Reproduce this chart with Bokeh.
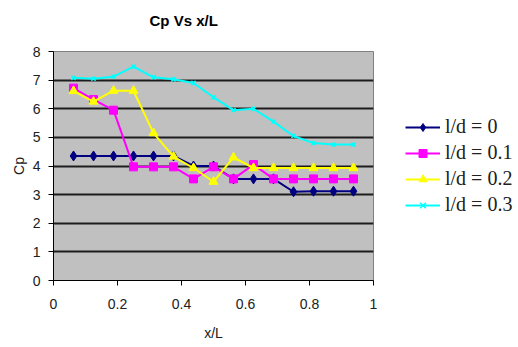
from bokeh.plotting import figure
from bokeh.models import FixedTicker, Legend, LegendItem, Title
from bokeh.embed import file_html
from bokeh.resources import INLINE

x_over_L = [0.0625, 0.125, 0.1875, 0.25, 0.3125, 0.375, 0.4375, 0.5,
            0.5625, 0.625, 0.6875, 0.75, 0.8125, 0.875, 0.9375]
cp_ld_0 = [4.35, 4.35, 4.35, 4.35, 4.35, 4.35, 4.0, 4.0, 3.55, 3.55, 3.55, 3.1, 3.12, 3.12, 3.12]
cp_ld_01 = [6.72, 6.32, 5.95, 3.97, 3.97, 3.97, 3.55, 3.97, 3.55, 4.05, 3.55, 3.55, 3.55, 3.55, 3.55]
cp_ld_02 = [6.62, 6.25, 6.63, 6.63, 5.15, 4.33, 3.93, 3.45, 4.3, 3.93, 3.93, 3.93, 3.93, 3.93, 3.93]
cp_ld_03 = [7.08, 7.05, 7.12, 7.47, 7.1, 7.03, 6.9, 6.4, 5.95, 6.0, 5.55, 5.05, 4.8, 4.75, 4.75]
series_labels = ["l/d = 0", "l/d = 0.1", "l/d = 0.2", "l/d = 0.3"]
x_ticks = [0, 0.2, 0.4, 0.6, 0.8, 1]
y_ticks = [0, 1, 2, 3, 4, 5, 6, 7, 8]

p = figure(width=518, height=347, output_backend="svg", toolbar_location=None,
           x_range=(0, 1), y_range=(0, 8),
           frame_width=320, frame_height=229,
           min_border_left=53, min_border_right=145, min_border_top=51, min_border_bottom=67)

p.background_fill_color = "#C0C0C0"
p.border_fill_color = "white"
p.outline_line_color = "#808080"
p.outline_line_width = 1

p.title = Title(text="Cp Vs x/L\n ", text_font="Liberation Sans", text_font_size="15px",
                text_font_style="bold", align="left", offset=96, text_color="black",
                standoff=8, text_line_height=1.1)

p.xgrid.grid_line_color = None
p.ygrid.grid_line_color = "black"
p.ygrid.grid_line_width = 2
p.ygrid.grid_line_alpha = 0.85

for ax in (p.xaxis[0], p.yaxis[0]):
    ax.axis_line_color = "black"
    ax.major_tick_line_color = "black"
    ax.major_tick_out = 5
    ax.major_tick_in = 0
    ax.minor_tick_line_color = None
    ax.major_label_text_font = "Liberation Sans"
    ax.major_label_text_font_size = "14px"
    ax.major_label_text_color = "#202020"
    ax.axis_label_text_font = "Liberation Sans"
    ax.axis_label_text_font_size = "14px"
    ax.axis_label_text_font_style = "normal"
    ax.axis_label_text_color = "#202020"

p.xaxis.ticker = FixedTicker(ticks=x_ticks)
p.yaxis.ticker = FixedTicker(ticks=y_ticks)
p.xaxis.major_label_overrides = {0: "0", 0.2: "0.2", 0.4: "0.4", 0.6: "0.6", 0.8: "0.8", 1: "1"}
p.xaxis.axis_label = "x/L"
p.yaxis.axis_label = "Cp"
p.xaxis.axis_label_standoff = 13
p.yaxis.axis_label_standoff = 3
p.xaxis.major_label_standoff = 13
p.yaxis.major_label_standoff = 8

items = []
l0 = p.line(x_over_L, cp_ld_0, line_color="#000080", line_width=2)
m0 = p.scatter(x_over_L, cp_ld_0, marker="diamond", size=10, fill_color="#000080", line_color="#000080")
items.append(LegendItem(label=series_labels[0], renderers=[l0, m0]))

l1 = p.line(x_over_L, cp_ld_01, line_color="#FF00FF", line_width=2)
m1 = p.scatter(x_over_L, cp_ld_01, marker="square", size=8, fill_color="#FF00FF", line_color="#FF00FF")
items.append(LegendItem(label=series_labels[1], renderers=[l1, m1]))

l2 = p.line(x_over_L, cp_ld_02, line_color="#FFFF00", line_width=2)
m2 = p.scatter(x_over_L, cp_ld_02, marker="triangle", size=9, fill_color="#FFFF00", line_color="#FFFF00")
items.append(LegendItem(label=series_labels[2], renderers=[l2, m2]))

l3 = p.line(x_over_L, cp_ld_03, line_color="#00FFFF", line_width=2)
m3 = p.scatter(x_over_L, cp_ld_03, marker="x", size=6, line_color="#00FFFF", line_width=1.5)
items.append(LegendItem(label=series_labels[3], renderers=[l3, m3]))

legend = Legend(items=items, location=(32, 64), orientation="vertical",
                label_text_font="Liberation Serif", label_text_font_size="20px",
                label_text_color="#202020",
                glyph_width=35, glyph_height=20, label_height=20, spacing=3,
                label_standoff=5, padding=0, margin=0,
                border_line_color=None, background_fill_alpha=0)
p.add_layout(legend, "right")

open("out.html", "w").write(file_html(p, INLINE))
